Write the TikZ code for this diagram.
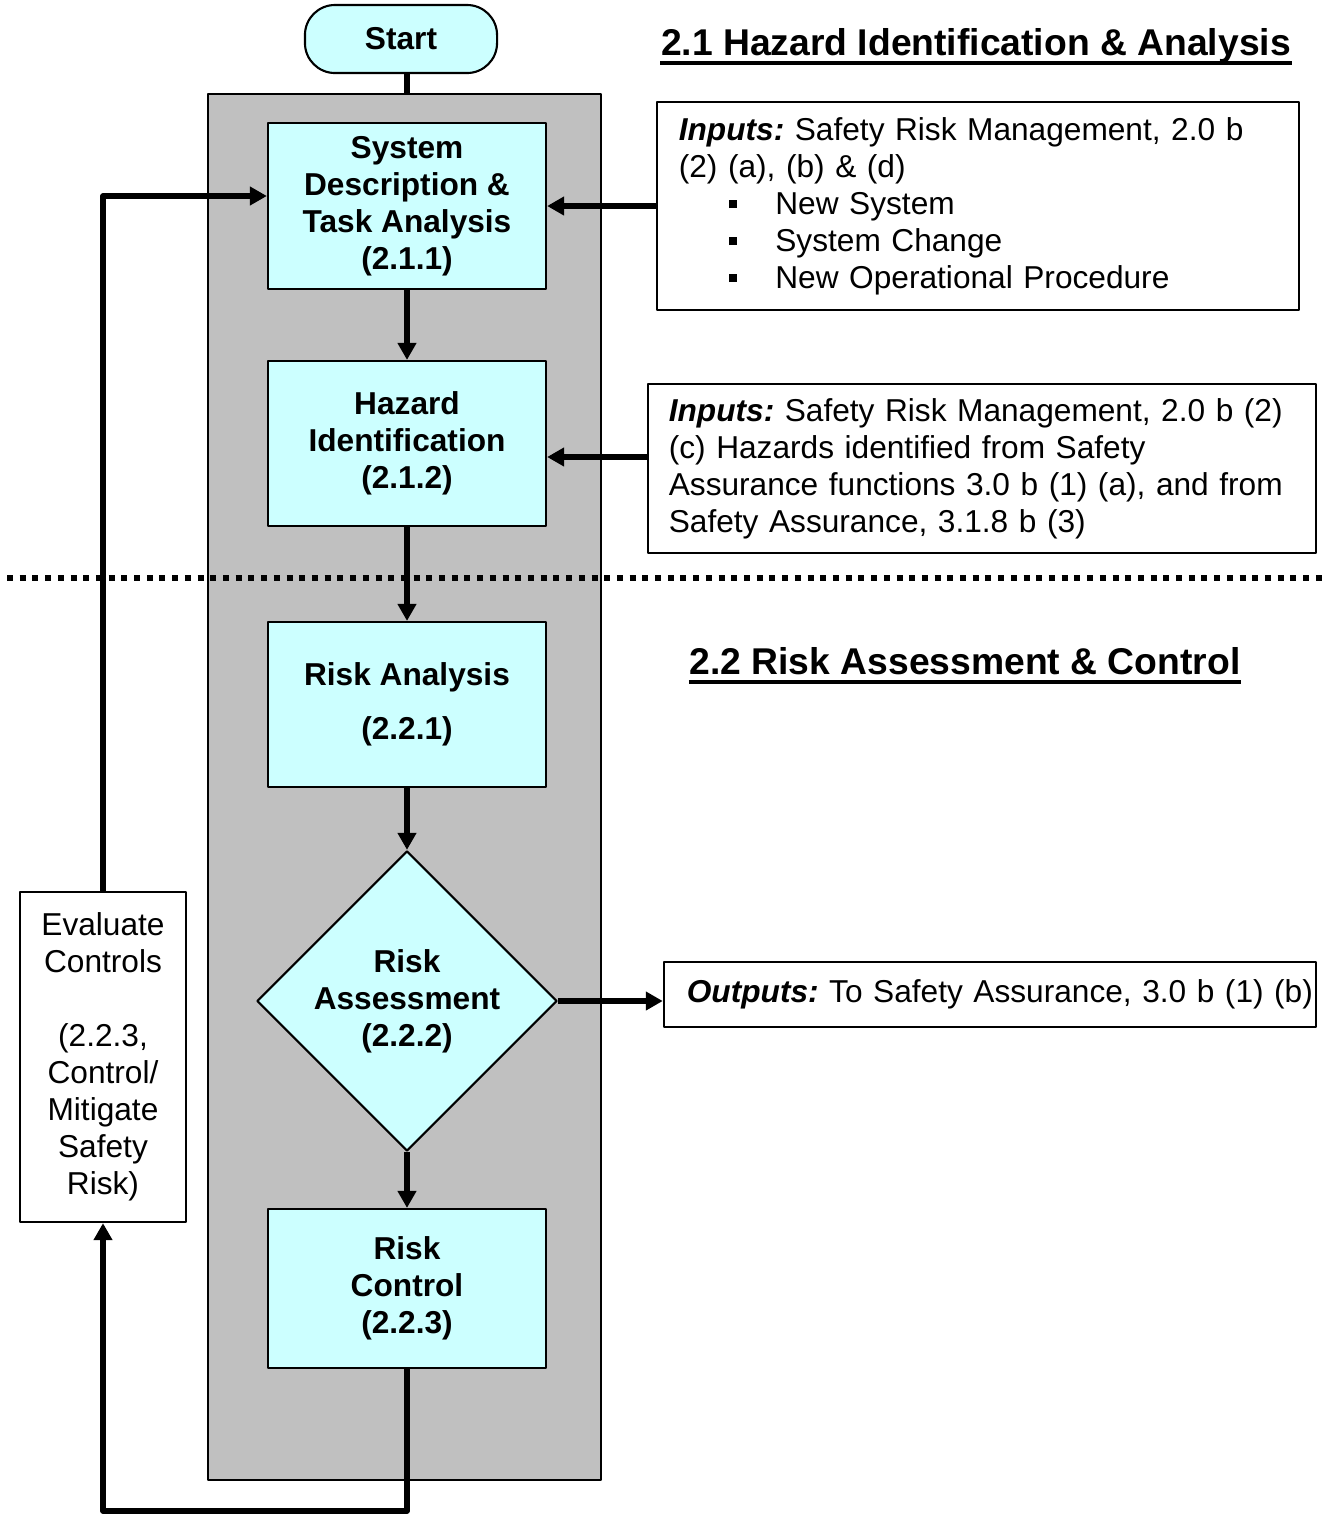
\documentclass[tikz,border=0pt]{standalone}
\usepackage{fontspec}
\setmainfont{Liberation Sans}
\frenchspacing
\usetikzlibrary{shapes.geometric,arrows.meta}
\definecolor{boxcyan}{HTML}{CCFFFF}
\definecolor{lanegray}{HTML}{C0C0C0}
\newcommand{\bul}{\hspace*{0.5cm}\rule[0.06cm]{0.085cm}{0.085cm}\hspace{0.38cm}}
\newcommand{\lead}[1]{{\bfseries\itshape #1}}
\begin{document}
\begin{tikzpicture}[x=0.01cm,y=-0.01cm,font=\fontsize{9pt}{10.5pt}\selectfont,line join=round,
  >={Triangle[length=0.17cm,width=0.18cm]},
  stage/.style={draw,line width=0.6pt,fill=boxcyan,minimum width=2.78cm,align=center,font=\fontsize{9pt}{10.5pt}\selectfont\bfseries},
  note/.style={draw,line width=0.6pt,fill=white,align=left,inner ysep=0pt},
  conn/.style={line width=1.5pt},
  head/.style={inner sep=0pt,anchor=base,font=\fontsize{10.6pt}{12pt}\selectfont\bfseries}]
\useasboundingbox (0,0) rectangle (1323,1514);
% swim lane and separator
\node[draw,line width=0.6pt,fill=lanegray,minimum width=3.93cm,minimum height=13.86cm] (lane) at (404.5,787) {};
\draw[line width=0.06cm,dash pattern=on 0.06cm off 0.067cm] (7,578) -- (1323,578);
% headings
\node[head] (head1) at (976,55) {2.1 Hazard Identification \& Analysis};
\node[head] (head2) at (965,674) {2.2 Risk Assessment \& Control};
\draw[line width=0.04cm] ([yshift=-0.08cm]head1.base west) -- ([yshift=-0.08cm]head1.base east);
\draw[line width=0.04cm] ([yshift=-0.08cm]head2.base west) -- ([yshift=-0.08cm]head2.base east);
% process steps
\node[draw,line width=0.6pt,fill=boxcyan,rounded corners=0.3cm,minimum width=1.92cm,minimum height=0.68cm,font=\fontsize{9pt}{10.5pt}\selectfont\bfseries] (start) at (401,39) {Start};
\node[stage,minimum height=1.66cm] (sysdesc) at (407,206) {System\\Description \&\\Task Analysis\\(2.1.1)};
\node[stage,minimum height=1.65cm] (hazid) at (407,443.5) {Hazard\\Identification\\(2.1.2)};
\node[stage,minimum height=1.65cm] (riskana) at (407,704.5) {Risk Analysis\\[0.17cm](2.2.1)};
\node[stage,shape=diamond,minimum width=3cm,minimum height=3cm,inner sep=0pt] (riskass) at (407,1001) {Risk\\Assessment\\(2.2.2)};
\node[stage,minimum height=1.59cm] (riskctl) at (407,1288.5) {Risk\\Control\\(2.2.3)};
\node[note,align=center,minimum width=1.66cm,minimum height=3.3cm] (evalctl) at (103,1057) {Evaluate\\Controls\\\mbox{}\\(2.2.3,\\Control/\\Mitigate\\Safety\\Risk)};
% inputs and outputs
\node[note,text width=5.98cm,inner xsep=0.22cm,minimum height=2.08cm] (inputsa) at (978,206) {\lead{Inputs:} Safety Risk Management, 2.0 b\\(2) (a), (b) \& (d)\\\bul New System\\\bul System Change\\\bul New Operational Procedure};
\node[note,text width=6.26cm,inner xsep=0.21cm,minimum height=1.69cm] (inputsb) at (982,468.5) {\lead{Inputs:} Safety Risk Management, 2.0 b (2)\\(c) Hazards identified from Safety\\Assurance functions 3.0 b (1) (a), and from\\Safety Assurance, 3.1.8 b (3)};
\node[note,text width=6.06cm,inner xsep=0.23cm,minimum height=0.65cm] (outputs) at (990,994.5) {\mbox{\lead{Outputs:} To Safety Assurance, 3.0 b (1) (b)}};
% connectors
\draw[conn] (sysdesc.north |- start.south) -- (sysdesc.north |- lane.north);
\draw[conn,->] (sysdesc) -- (hazid);
\draw[conn,->] (hazid) -- (riskana);
\draw[conn,->] (riskana) -- (riskass);
\draw[conn,->] (riskass) -- (riskctl);
\draw[conn,->] (riskctl.south) -- ++(0,142) -| (evalctl.south);
\draw[conn,->] (evalctl.north) |- ([yshift=0.1cm]sysdesc.west);
\draw[conn,->] (inputsa.west) -- (inputsa.west -| sysdesc.east);
\draw[conn,->] ([yshift=0.115cm]inputsb.west) -- ([yshift=0.115cm]inputsb.west -| hazid.east);
\draw[conn,->] (riskass.east) -- (riskass.east -| outputs.west);
\end{tikzpicture}
\end{document}
